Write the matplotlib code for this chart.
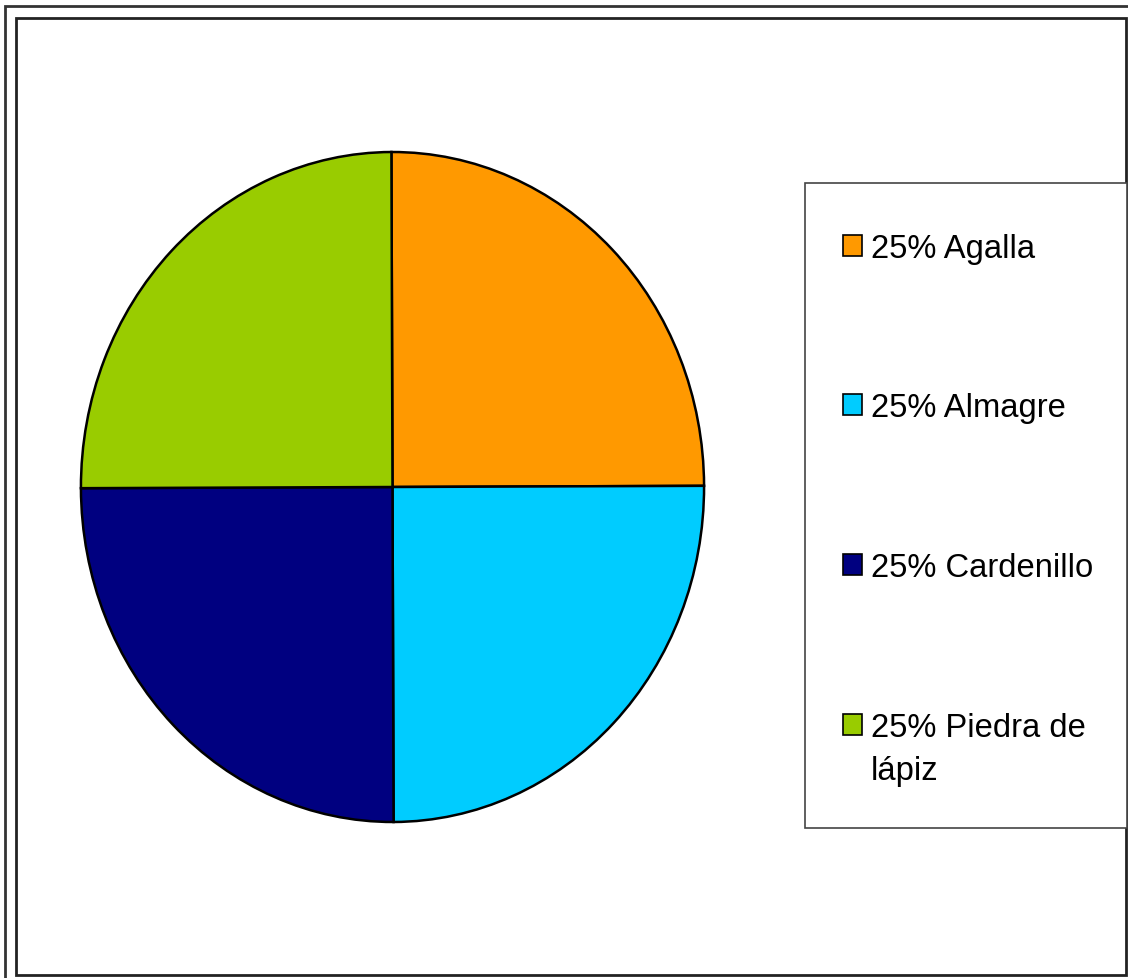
import matplotlib
matplotlib.use("Agg")
import matplotlib.pyplot as plt
from matplotlib.patches import Rectangle

plt.rcParams['font.family'] = ['Liberation Sans', 'DejaVu Sans']

categories = ["Agalla", "Almagre", "Cardenillo", "Piedra de\nlápiz"]
shares = [25, 25, 25, 25]
colors = ["#FF9900", "#00CCFF", "#000080", "#99CC00"]

W, H = 1128, 979
fig = plt.figure(figsize=(W / 100, H / 100), dpi=100)
fig.patch.set_facecolor("white")


def fx(px):
    return px / W


def fy(py):
    return 1 - py / H


# double frame around the chart area
for (x0, y0, x1, y1, lw, col) in [
    (5, 7, 1140, 990, 2.0, "#333333"),
    (16, 19, 1126, 976, 2.0, "#222222"),
]:
    fig.add_artist(Rectangle((fx(x0), fy(y1)), fx(x1) - fx(x0), fy(y0) - fy(y1),
                             transform=fig.transFigure, fill=False,
                             edgecolor=col, linewidth=lw))

# pie
ax = fig.add_axes([fx(80), fy(824), fx(705) - fx(80), fy(152) - fy(824)])
wedges, _ = ax.pie(shares, colors=colors, startangle=90.2, counterclock=False,
                   radius=1.0,
                   wedgeprops=dict(edgecolor="black", linewidth=1.8))
ax.set_aspect("auto")
ax.set_xlim(-1.003, 1.003)
ax.set_ylim(-1.003, 1.003)
ax.axis("off")

# legend box
lx0, ly0, lx1, ly1 = 805, 184, 1127, 829
fig.add_artist(Rectangle((fx(lx0), fy(ly1)), fx(lx1) - fx(lx0), fy(ly0) - fy(ly1),
                         transform=fig.transFigure, fill=True, facecolor="white",
                         edgecolor="#444444", linewidth=1.2))

entry_y = [246, 405, 565, 725]
total = sum(shares)
for name, val, col, yc in zip(categories, shares, colors, entry_y):
    fig.add_artist(Rectangle((fx(843), fy(yc + 11)), fx(862) - fx(843), fy(yc - 10) - fy(yc + 11),
                             transform=fig.transFigure, facecolor=col,
                             edgecolor="black", linewidth=1.2))
    pct = round(100 * val / total)
    fig.text(fx(871), fy(yc - 12), f"{pct}% {name}", fontsize=23.6,
             va="top", ha="left", linespacing=1.48)

fig.savefig("out.png", dpi=100, facecolor="white")
